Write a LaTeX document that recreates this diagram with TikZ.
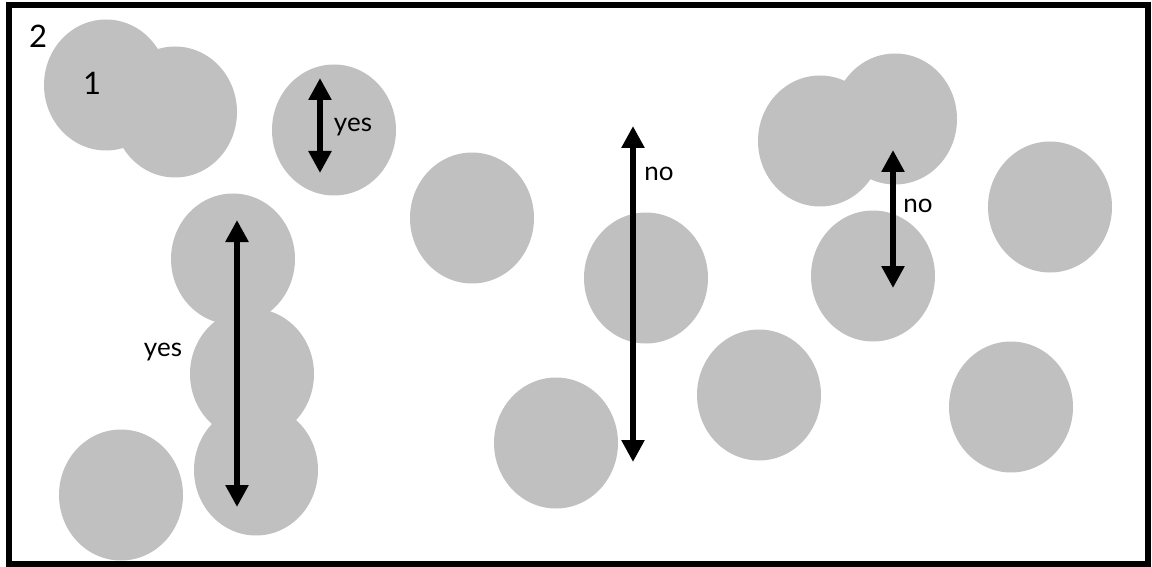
\documentclass[tikz,border=0pt]{standalone}
\usepackage{fontspec}
\setmainfont{Lato}
\usetikzlibrary{arrows.meta,shapes.geometric}
\definecolor{blobgray}{RGB}{192,192,192}
\tikzset{
  blob/.style={ellipse, fill=blobgray, draw=none, inner sep=0pt,
               minimum width=124pt, minimum height=131pt},
  dblarrow/.style={line width=6pt, {Triangle[width=22pt,length=22pt]}-{Triangle[width=22pt,length=22pt]}},
  lbl/.style={font=\fontsize{26}{28}\selectfont, inner sep=0pt},
  bignum/.style={font=\fontsize{31}{33}\selectfont, inner sep=0pt}
}
\begin{document}
\begin{tikzpicture}[x=1pt,y=-1pt]
\useasboundingbox (0,0) rectangle (1152,567);
% particles
\node[blob] (p1)  at (106,85)  {};
\node[blob] (p2)  at (175,112) {};
\node[blob] (p3)  at (334,130) {};
\node[blob] (p4)  at (233,259) {};
\node[blob] (p5)  at (252,374) {};
\node[blob] (p6)  at (256,470) {};
\node[blob] (p7)  at (121,495) {};
\node[blob] (p8)  at (472,218) {};
\node[blob] (p9)  at (646,278) {};
\node[blob] (p10) at (556,443) {};
\node[blob] (p11) at (759,395) {};
\node[blob] (p12) at (820,141) {};
\node[blob] (p13) at (895,119) {};
\node[blob] (p14) at (873,276) {};
\node[blob] (p15) at (1050,207) {};
\node[blob] (p16) at (1011,407) {};
% frame
\node[draw=black, line width=6pt, inner sep=0pt, minimum width=1139.5pt,
      minimum height=558.5pt] (frame) at (578.25,284.75) {};
% labels
\node[bignum] (n2) at (38,36) {2};
\node[bignum] (n1) at (92,83) {1};
% arrow end points
\coordinate (a1t) at (320,78);
\coordinate (a1b) at (320,173);
\coordinate (a2t) at (237,220);
\coordinate (a2b) at (237,507);
\coordinate (a3t) at (633,126);
\coordinate (a3b) at (633,462);
\coordinate (a4t) at (893,150);
\coordinate (a4b) at (893,288);
\draw[dblarrow] (a1t) -- (a1b);
\draw[dblarrow] (a2t) -- (a2b);
\draw[dblarrow] (a3t) -- (a3b);
\draw[dblarrow] (a4t) -- (a4b);
\node[lbl] (y1) at (353,127) {yes};
\node[lbl] (y2) at (163,352) {yes};
\node[lbl] (o1) at (659,174) {no};
\node[lbl] (o2) at (918,206) {no};
\end{tikzpicture}
\end{document}
